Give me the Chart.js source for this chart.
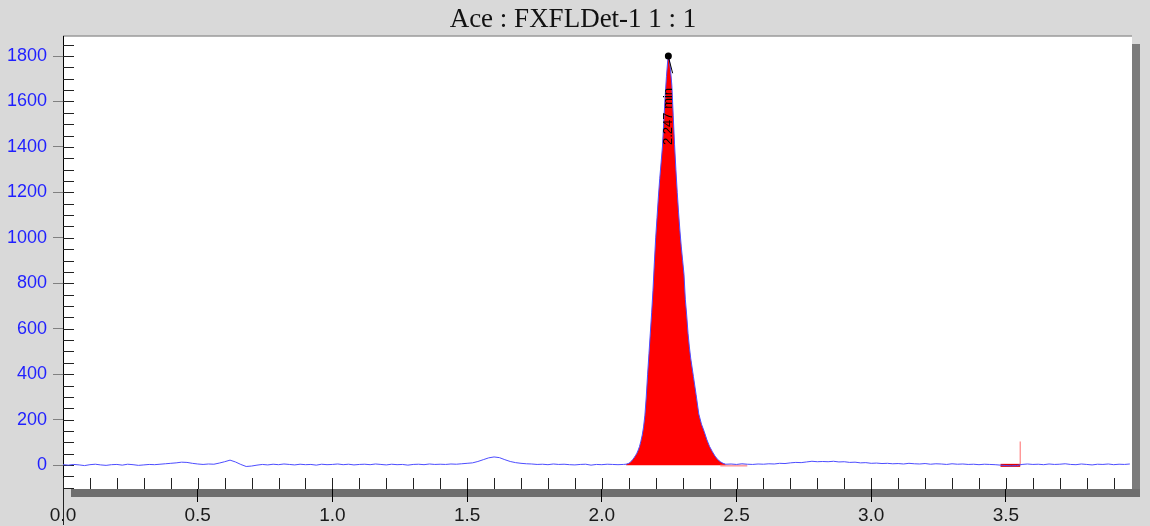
<!DOCTYPE html>
<html>
<head>
<meta charset="utf-8">
<title>Ace : FXFLDet-1 1 : 1</title>
<script src="https://cdn.jsdelivr.net/npm/chart.js@4.4.0/dist/chart.umd.min.js"></script>
<style>
  html, body { margin: 0; padding: 0; background: #d9d9d9; }
</style>
</head>
<body>
<canvas id="chart" width="1150" height="526"></canvas>
<script>
// chromatogram title
var chartTitle = 'Ace : FXFLDet-1 1 : 1';

// baseline before the peak, sampled every 0.02 min from 0.00 to 2.08
var leftStart = 0.0;
var leftValues = [
  2, 0, 3, 1, -2, 2, 4, 1, -1, 2,
  3, 0, 4, 2, -1, 1, 3, 2, 4, 6,
  8, 10, 13, 12, 8, 5, 3, 5, 4, 9,
  15, 22, 14, 3, -6, -4, 0, 3, 1, 4,
  2, 5, 3, 1, 4, 2, 3, 0, 4, 2,
  3, 5, 2, 4, 1, 3, 4, 2, 5, 3,
  1, 4, 2, 3, 0, 3, 4, 2, 5, 3,
  4, 3, 5, 4, 6, 8, 10, 16, 24, 32,
  36, 33, 24, 16, 11, 8, 6, 5, 3, 4,
  2, 5, 3, 4, 2, 1, 3, 4, 0, 3,
  2, 4, 3, 2, 3
];

// main peak (min / signal)
var peakTimes = [
  2.090, 2.100, 2.105, 2.110, 2.115, 2.120, 2.125, 2.130, 2.135, 2.140,
  2.145, 2.150, 2.155, 2.160, 2.165, 2.170, 2.175, 2.180, 2.185, 2.190,
  2.195, 2.200, 2.205, 2.210, 2.215, 2.220, 2.225, 2.230, 2.235, 2.240,
  2.245, 2.247, 2.250, 2.255, 2.260, 2.265, 2.270, 2.275, 2.280, 2.285,
  2.290, 2.295, 2.300, 2.305, 2.310, 2.315, 2.320, 2.325, 2.330, 2.340,
  2.350, 2.360, 2.370, 2.380, 2.390, 2.400, 2.410, 2.420, 2.430, 2.440,
  2.450, 2.460
];
var peakValues = [
  4, 8, 12, 18, 25, 33, 42, 52, 66, 82,
  105, 132, 168, 220, 300, 400, 490, 580, 670, 770,
  890, 1000, 1090, 1180, 1260, 1330, 1400, 1510, 1620, 1710,
  1785, 1800, 1790, 1740, 1670, 1540, 1410, 1300, 1200, 1110,
  1030, 960, 900, 840, 730, 660, 580, 520, 470, 390,
  310, 225, 180, 148, 112, 82, 60, 40, 25, 15,
  8, 4
];

// baseline after the peak, every 0.02 min from 2.48 to 3.96
var rightStart = 2.48;
var rightValues = [
  5, 3, 6, 4, 3, 5, 4, 6, 5, 8,
  7, 10, 12, 11, 14, 17, 15, 16, 15, 17,
  14, 15, 12, 13, 10, 11, 8, 9, 7, 8,
  6, 7, 5, 8, 6, 5, 7, 4, 6, 5,
  3, 6, 4, 5, 3, 4, 2, 4, 3, 2,
  0, -2, -3, -2, 3, 5, 3, 4, 2, 5,
  3, 4, 6, 3, 2, 5, 3, 1, 4, 3,
  5, 2, 4, 3, 5
];
var sampleStep = 0.02;

// peak marker
var apexTime = 2.247;
var apexValue = 1800;
var apexLabel = '2.247 min';
var apexLabelValue = 1534;
var apexLeader = [[2.247, 1797], [2.263, 1724]];

// integration marks
var integBaseline = [[2.44, -2], [2.54, -2]];
var smallPeakBand = [[3.48, -1], [3.553, -1]];
var smallPeakSpike = [[3.553, 0], [3.553, 104]];

// axis
var xMin = 0, xMax = 3.968;
var yMin = -105, yMax = 1888;

function toPoints(pairs) {
    return pairs.map(function (p) { return {x: p[0], y: p[1]}; });
}

var trace = [];
leftValues.forEach(function (v, i) {
    trace.push({x: Math.round((leftStart + i * sampleStep) * 1000) / 1000, y: v});
});
var peakPoints = [];
peakTimes.forEach(function (t, i) {
    peakPoints.push({x: t, y: peakValues[i]});
    trace.push({x: t, y: peakValues[i]});
});
rightValues.forEach(function (v, i) {
    trace.push({x: Math.round((rightStart + i * sampleStep) * 1000) / 1000, y: v});
});

function isMajorX(v) {
    return Math.abs(v * 2 - Math.round(v * 2)) < 1e-6;
}

var framePlugin = {
    id: 'frame',
    beforeDraw: function (chart) {
        var ctx = chart.ctx;
        var a = chart.chartArea;
        ctx.save();
        ctx.fillStyle = '#d9d9d9';
        ctx.fillRect(0, 0, chart.width, chart.height);
        // shadows
        ctx.fillStyle = '#7b7b7b';
        ctx.fillRect(a.right, a.top + 8, 8, a.bottom - a.top);
        ctx.fillStyle = '#6e6e6e';
        ctx.fillRect(a.left + 8, a.bottom, a.right - a.left, 8);
        // plot
        ctx.fillStyle = '#ffffff';
        ctx.fillRect(a.left, a.top, a.right - a.left, a.bottom - a.top);
        ctx.strokeStyle = '#9a9a9a';
        ctx.lineWidth = 1.5;
        ctx.beginPath();
        ctx.moveTo(a.left, a.top);
        ctx.lineTo(a.right, a.top);
        ctx.stroke();
        ctx.restore();
    },
    beforeDatasetsDraw: function (chart) {
        var ctx = chart.ctx;
        var a = chart.chartArea;
        ctx.save();
        ctx.lineWidth = 1;
        ctx.strokeStyle = '#222';
        ctx.beginPath();
        chart.scales.y.ticks.forEach(function (t) {
            var y = Math.round(chart.scales.y.getPixelForValue(t.value)) + 0.5;
            ctx.moveTo(a.left, y);
            ctx.lineTo(a.left + 11, y);
        });
        chart.scales.x.ticks.forEach(function (t) {
            var x = Math.round(chart.scales.x.getPixelForValue(t.value)) + 0.5;
            ctx.moveTo(x, a.bottom - 11);
            ctx.lineTo(x, a.bottom);
        });
        // left axis runs down past the bottom
        ctx.moveTo(Math.round(a.left) + 0.5, a.bottom);
        ctx.lineTo(Math.round(a.left) + 0.5, 525);
        ctx.stroke();
        ctx.restore();
    },
    afterDraw: function (chart) {
        var ctx = chart.ctx;
        ctx.save();
        // apex label
        var x = chart.scales.x.getPixelForValue(apexTime);
        var y = chart.scales.y.getPixelForValue(apexLabelValue);
        ctx.translate(x, y);
        ctx.rotate(-Math.PI / 2);
        ctx.font = '13px "Liberation Sans", Arial, sans-serif';
        ctx.textAlign = 'center';
        ctx.textBaseline = 'middle';
        ctx.fillStyle = '#000';
        ctx.fillText(apexLabel, 0, 0);
        ctx.restore();

        ctx.save();
        ctx.font = '27px "Liberation Serif", "Times New Roman", serif';
        ctx.textAlign = 'center';
        ctx.textBaseline = 'middle';
        ctx.fillStyle = '#111';
        ctx.fillText(chartTitle, 573, 20);
        ctx.restore();
    }
};

var ctx = document.getElementById('chart').getContext('2d');
var config = {
    type: 'line',
    data: {
        datasets: [{
            // apex dot
            data: [{x: apexTime, y: apexValue}],
            showLine: false,
            pointRadius: 3.5,
            pointBackgroundColor: '#000',
            pointBorderWidth: 0
        }, {
            data: toPoints(apexLeader),
            borderColor: '#000',
            borderWidth: 1,
            pointRadius: 0
        }, {
            // detector trace
            data: trace,
            borderColor: '#4d4dff',
            borderWidth: 1,
            pointRadius: 0,
            tension: 0
        }, {
            data: toPoints(smallPeakSpike),
            borderColor: 'rgba(255, 70, 70, 0.8)',
            borderWidth: 1,
            pointRadius: 0
        }, {
            data: toPoints(smallPeakBand),
            borderColor: '#e00000',
            borderWidth: 3,
            pointRadius: 0
        }, {
            data: toPoints(integBaseline),
            borderColor: 'rgba(255, 120, 120, 0.7)',
            borderWidth: 2,
            pointRadius: 0
        }, {
            // integrated area
            data: peakPoints,
            borderWidth: 0,
            borderColor: 'rgba(0,0,0,0)',
            backgroundColor: '#ff0000',
            fill: 'origin',
            pointRadius: 0
        }]
    },
    options: {
        responsive: false,
        animation: false,
        devicePixelRatio: 1,
        layout: {
            padding: {left: 5, top: 36, right: 18, bottom: 0}
        },
        plugins: {
            legend: {display: false},
            tooltip: {enabled: false},
            title: {display: false}
        },
        scales: {
            x: {
                type: 'linear',
                min: xMin,
                max: xMax,
                afterFit: function (scale) { scale.height = 37; },
                border: {display: false},
                grid: {
                    drawOnChartArea: false,
                    tickLength: 13,
                    color: function (c) { return c.tick && isMajorX(c.tick.value) ? '#000' : 'rgba(0,0,0,0)'; }
                },
                ticks: {
                    stepSize: 0.1,
                    includeBounds: false,
                    autoSkip: false,
                    maxRotation: 0,
                    padding: 2,
                    color: '#1a1a1a',
                    font: {family: '"Liberation Sans", Arial, sans-serif', size: 19},
                    callback: function (v) { return isMajorX(v) ? v.toFixed(1) : ''; }
                }
            },
            y: {
                min: yMin,
                max: yMax,
                afterFit: function (scale) { scale.width = 58; },
                border: {display: true, color: '#000', width: 1},
                grid: {
                    drawOnChartArea: false,
                    tickLength: 10,
                    color: function (c) { return c.tick && c.tick.value % 200 === 0 ? '#808080' : 'rgba(0,0,0,0)'; }
                },
                ticks: {
                    stepSize: 50,
                    includeBounds: false,
                    autoSkip: false,
                    padding: 6,
                    color: '#1f1fff',
                    font: {family: '"Liberation Sans", Arial, sans-serif', size: 18},
                    callback: function (v) { return v % 200 === 0 ? String(v) : ''; }
                }
            }
        }
    },
    plugins: [framePlugin]
};

var chart = new Chart(ctx, config);
</script>
</body>
</html>
